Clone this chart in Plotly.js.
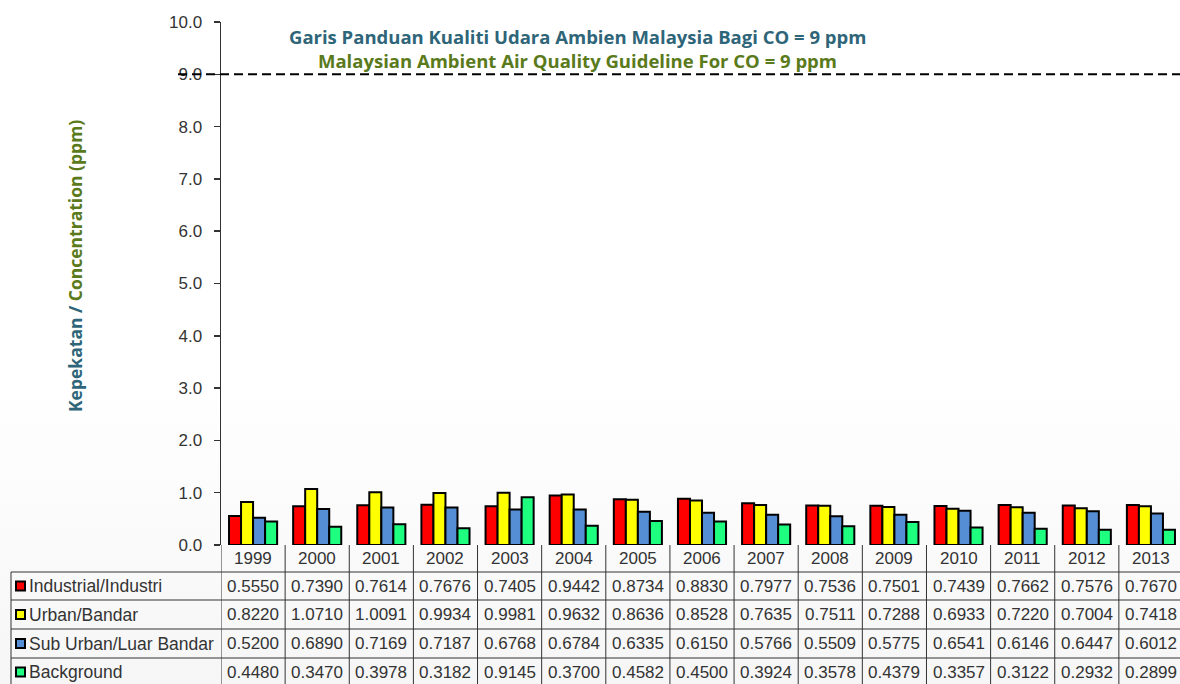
<!DOCTYPE html>
<html>
<head>
<meta charset="utf-8">
<script src="https://cdn.plot.ly/plotly-3.0.1.min.js"></script>
<style>
html,body{margin:0;padding:0;overflow:hidden;}
body{width:1180px;height:684px;background:linear-gradient(to bottom,#ffffff 0%,#ffffff 55%,#f6f6f6 100%);}
#chart{width:1183px;height:684px;}
</style>
</head>
<body>
<div id="chart"></div>
<script>
// ---- data ----
const years = ['1999','2000','2001','2002','2003','2004','2005','2006','2007','2008','2009','2010','2011','2012','2013'];
const industrial = [0.5550,0.7390,0.7614,0.7676,0.7405,0.9442,0.8734,0.8830,0.7977,0.7536,0.7501,0.7439,0.7662,0.7576,0.7670];
const urban      = [0.8220,1.0710,1.0091,0.9934,0.9981,0.9632,0.8636,0.8528,0.7635,0.7511,0.7288,0.6933,0.7220,0.7004,0.7418];
const suburban   = [0.5200,0.6890,0.7169,0.7187,0.6768,0.6784,0.6335,0.6150,0.5766,0.5509,0.5775,0.6541,0.6146,0.6447,0.6012];
const backgroundSeries = [0.4480,0.3470,0.3978,0.3182,0.9145,0.3700,0.4582,0.4500,0.3924,0.3578,0.4379,0.3357,0.3122,0.2932,0.2899];
const seriesNames = ['Industrial/Industri','Urban/Bandar','Sub Urban/Luar Bandar','Background'];
const guideline = 9;
const yTicks = [0,1,2,3,4,5,6,7,8,9,10];
const titleMalay = 'Garis Panduan Kualiti Udara Ambien Malaysia Bagi CO = 9 ppm';
const titleEnglish = 'Malaysian Ambient Air Quality Guideline For CO = 9 ppm';
const yTitleMalay = 'Kepekatan / ';
const yTitleEnglish = 'Concentration (ppm)';

// ---- styles ----
const seriesValues = [industrial, urban, suburban, backgroundSeries];
const colors = ['#ff0000','#ffff00','#558ed5','#1eff80'];
const W = 1183, H = 684, L = 221, R = 0, T = 22, B = 139;
const pw = W - L - R, ph = H - T - B;
const px = v => (v - L) / pw;
const py = v => (H - B - v) / ph;
const numFont = {family:'Liberation Sans, Arial, sans-serif', size:17, color:'#333333'};
const labelFont = {family:'Liberation Sans, Arial, sans-serif', size:17.5, color:'#333333'};
const lineCol = '#333333';

const traces = seriesValues.map((vals, i) => ({
  type:'bar', x: years, y: vals, name: seriesNames[i],
  marker:{color: colors[i], line:{color:'#000', width:2}},
  hoverinfo:'skip', showlegend:false
}));

const rowLines = [572, 600, 629, 658];
const rowCenters = [586, 614.5, 643.5, 672];

const shapes = [];
shapes.push({type:'line', xref:'paper', yref:'y', x0:px(178), x1:1, y0:guideline, y1:guideline,
  line:{color:'#000', width:2, dash:'9px,5px'}});
rowLines.forEach(r => shapes.push({type:'line', xref:'paper', yref:'paper', x0:px(11), x1:1, y0:py(r), y1:py(r), line:{color:lineCol, width:1}}));
shapes.push({type:'line', xref:'paper', yref:'paper', x0:px(11), x1:px(11), y0:py(572), y1:py(690), line:{color:lineCol, width:1}});
for (let k = 0; k <= years.length; k++) {
  shapes.push({type:'line', xref:'x', yref:'paper', x0:k - 0.5, x1:k - 0.5, y0:0, y1:py(690), line:{color:lineCol, width:1}});
}
rowCenters.forEach((c, i) => shapes.push({type:'rect', xref:'paper', yref:'paper',
  x0:px(16), x1:px(25), y0:py(c + 4.5), y1:py(c - 4.5), fillcolor:colors[i], line:{color:'#000', width:2}}));

const annotations = [];
annotations.push({xref:'paper', yref:'paper', x:px(577), y:py(37), xanchor:'center', yanchor:'middle', text:'<b>'+titleMalay+'</b>', showarrow:false,
  font:{family:'Open Sans, sans-serif', size:18.5, color:'#2e6578'}});
annotations.push({xref:'paper', yref:'paper', x:px(577), y:py(60), xanchor:'center', yanchor:'middle', text:'<b>'+titleEnglish+'</b>', showarrow:false,
  font:{family:'Open Sans, sans-serif', size:18.5, color:'#5a7a1c'}});
annotations.push({xref:'paper', yref:'paper', x:px(75), y:py(266), xanchor:'center', yanchor:'middle', textangle:-90, showarrow:false,
  text:'<b><span style="color:#2e6578">'+yTitleMalay+'</span><span style="color:#5a7a1c">'+yTitleEnglish+'</span></b>',
  font:{family:'Open Sans, sans-serif', size:17.5, color:'#2e6578'}});
years.forEach((yr, i) => annotations.push({xref:'x', yref:'paper', x:i, y:py(558), xanchor:'center', yanchor:'middle', text:yr, showarrow:false, font:numFont}));
seriesValues.forEach((vals, r) => {
  annotations.push({xref:'paper', yref:'paper', x:px(27), xanchor:'left', yanchor:'middle', y:py(rowCenters[r]), text:seriesNames[r], showarrow:false, font:labelFont});
  vals.forEach((v, i) => annotations.push({xref:'x', yref:'paper', x:i, y:py(rowCenters[r]), xanchor:'center', yanchor:'middle', text:v.toFixed(4), showarrow:false, font:numFont}));
});

const layout = {
  width:W, height:H,
  margin:{l:L, r:R, t:T, b:B},
  paper_bgcolor:'rgba(0,0,0,0)', plot_bgcolor:'rgba(0,0,0,0)',
  barmode:'group', bargap:0.25, bargroupgap:0,
  xaxis:{type:'category', range:[-0.5, years.length - 0.5], autorange:false, showticklabels:false, ticks:'', showgrid:false, zeroline:false, showline:false, fixedrange:true},
  yaxis:{range:[0,10], autorange:false, tickvals:yTicks, tickformat:'.1f', ticks:'outside', ticklen:6, tickwidth:1.5, tickcolor:lineCol,
    showline:true, linecolor:lineCol, linewidth:1.5, showgrid:false, zeroline:false, ticklabelstandoff:8,
    tickfont:{family:'Liberation Sans, Arial, sans-serif', size:17, color:'#333'}, fixedrange:true},
  shapes, annotations
};
Plotly.newPlot('chart', traces, layout, {displayModeBar:false, staticPlot:true});
</script>
</body>
</html>
